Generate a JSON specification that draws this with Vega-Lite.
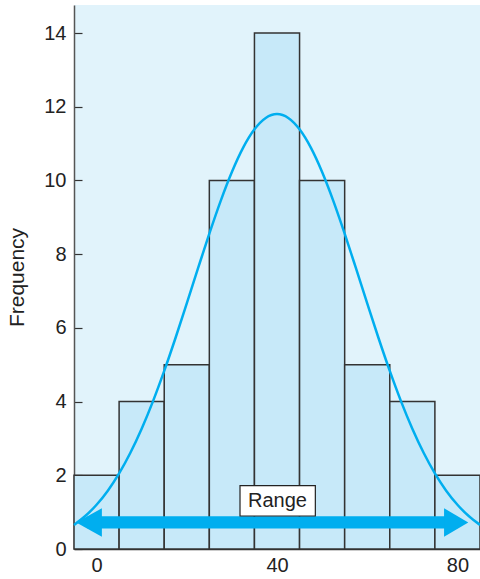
{
  "$schema": "https://vega.github.io/schema/vega-lite/v6.json",
  "width": 406,
  "height": 544,
  "autosize": {"type": "none"},
  "padding": {"left": 74, "top": 5, "right": 0, "bottom": 30},
  "background": "white",
  "config": {
    "view": {"stroke": null, "fill": "#E1F3FB"},
    "font": "Liberation Sans"
  },
  "datasets": {
    "bars": [
      {"start": -5, "end": 5, "freq": 2},
      {"start": 5, "end": 15, "freq": 4},
      {"start": 15, "end": 25, "freq": 5},
      {"start": 25, "end": 35, "freq": 10},
      {"start": 35, "end": 45, "freq": 14},
      {"start": 45, "end": 55, "freq": 10},
      {"start": 55, "end": 65, "freq": 5},
      {"start": 65, "end": 75, "freq": 4},
      {"start": 75, "end": 85, "freq": 2}
    ],
    "curve": [
      {"x": -5, "y": 0.654}, {"x": -2.5, "y": 0.894}, {"x": 0, "y": 1.2}, {"x": 2.5, "y": 1.583},
      {"x": 5, "y": 2.05}, {"x": 7.5, "y": 2.61}, {"x": 10, "y": 3.262}, {"x": 12.5, "y": 4.006},
      {"x": 15, "y": 4.832}, {"x": 17.5, "y": 5.725}, {"x": 20, "y": 6.664}, {"x": 22.5, "y": 7.619},
      {"x": 25, "y": 8.557}, {"x": 27.5, "y": 9.44}, {"x": 30, "y": 10.229}, {"x": 32.5, "y": 10.889},
      {"x": 35, "y": 11.386}, {"x": 37.5, "y": 11.695}, {"x": 40, "y": 11.8},
      {"x": 42.5, "y": 11.695}, {"x": 45, "y": 11.386}, {"x": 47.5, "y": 10.889}, {"x": 50, "y": 10.229},
      {"x": 52.5, "y": 9.44}, {"x": 55, "y": 8.557}, {"x": 57.5, "y": 7.619}, {"x": 60, "y": 6.664},
      {"x": 62.5, "y": 5.725}, {"x": 65, "y": 4.832}, {"x": 67.5, "y": 4.006}, {"x": 70, "y": 3.262},
      {"x": 72.5, "y": 2.61}, {"x": 75, "y": 2.05}, {"x": 77.5, "y": 1.583}, {"x": 80, "y": 1.2},
      {"x": 82.5, "y": 0.894}, {"x": 85, "y": 0.654}
    ],
    "shaft": [{"x1": -2, "x2": 79.5, "y": 0.72}],
    "headL": [{"x": -4.5, "y": 0.72}],
    "headR": [{"x": 82.4, "y": 0.72}],
    "label": [{"x1": 31.8, "x2": 48.5, "y1": 0.895, "y2": 1.72, "xc": 40.1, "yc": 1.3, "text": "Range"}]
  },
  "layer": [
    {
      "data": {"name": "bars"},
      "mark": {"type": "rect", "fill": "#C7E9F9", "stroke": "#333333", "strokeWidth": 1.5},
      "encoding": {
        "x": {
          "field": "start", "type": "quantitative",
          "scale": {"domain": [-5, 85], "nice": false, "zero": false},
          "axis": {
            "values": [0, 40, 80], "grid": false, "ticks": false, "title": null,
            "domain": true, "domainColor": "#333333", "domainWidth": 1.5,
            "labelFontSize": 20, "labelColor": "#222222", "labelPadding": 6, "labelFlush": false
          }
        },
        "x2": {"field": "end"},
        "y": {
          "field": "freq", "type": "quantitative",
          "scale": {"domain": [0, 14.76], "nice": false},
          "axis": {
            "values": [0, 2, 4, 6, 8, 10, 12, 14], "grid": false, "title": "Frequency",
            "titleFontSize": 21, "titleFontWeight": "normal", "titleColor": "#222222", "titlePadding": 16,
            "domainColor": "#555555", "domainWidth": 1.5,
            "tickSize": -8, "tickColor": "#333333", "tickWidth": 1.2,
            "labelFontSize": 20, "labelColor": "#222222", "labelPadding": 16
          }
        },
        "y2": {"datum": 0}
      }
    },
    {
      "data": {"name": "curve"},
      "mark": {"type": "line", "color": "#00AEEF", "strokeWidth": 2.5, "interpolate": "monotone"},
      "encoding": {
        "x": {"field": "x", "type": "quantitative"},
        "y": {"field": "y", "type": "quantitative"}
      }
    },
    {
      "data": {"name": "shaft"},
      "mark": {"type": "rule", "color": "#00AEEF", "strokeWidth": 12.3, "strokeCap": "butt"},
      "encoding": {
        "x": {"field": "x1", "type": "quantitative"},
        "x2": {"field": "x2"},
        "y": {"field": "y", "type": "quantitative"}
      }
    },
    {
      "data": {"name": "headL"},
      "mark": {"type": "point", "shape": "M 0 0 L 1.8 -1 L 1.8 1 Z", "filled": true, "color": "#00AEEF", "size": 810, "opacity": 1},
      "encoding": {
        "x": {"field": "x", "type": "quantitative"},
        "y": {"field": "y", "type": "quantitative"}
      }
    },
    {
      "data": {"name": "headR"},
      "mark": {"type": "point", "shape": "M 0 0 L -1.7 -1 L -1.7 1 Z", "filled": true, "color": "#00AEEF", "size": 810, "opacity": 1},
      "encoding": {
        "x": {"field": "x", "type": "quantitative"},
        "y": {"field": "y", "type": "quantitative"}
      }
    },
    {
      "data": {"name": "label"},
      "mark": {"type": "rect", "fill": "white", "stroke": "#222222", "strokeWidth": 1.2},
      "encoding": {
        "x": {"field": "x1", "type": "quantitative"},
        "x2": {"field": "x2"},
        "y": {"field": "y1", "type": "quantitative"},
        "y2": {"field": "y2"}
      }
    },
    {
      "data": {"name": "label"},
      "mark": {"type": "text", "fontSize": 20, "color": "#222222", "align": "center", "baseline": "middle"},
      "encoding": {
        "x": {"field": "xc", "type": "quantitative"},
        "y": {"field": "yc", "type": "quantitative"},
        "text": {"field": "text"}
      }
    }
  ]
}
